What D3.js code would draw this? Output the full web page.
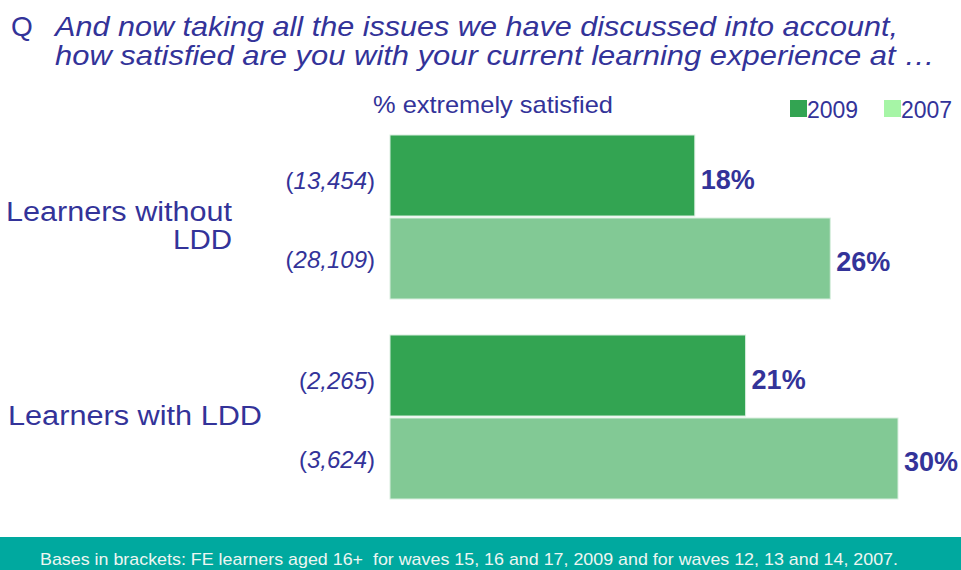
<!DOCTYPE html>
<html>
<head>
<meta charset="utf-8">
<script src="https://cdn.jsdelivr.net/npm/d3@7"></script>
<style>
  body { margin: 0; background: #fff; }
  svg text { font-family: "Liberation Sans", Arial, sans-serif; }
</style>
</head>
<body>
<div id="chartDiv"></div>
<script>
const groups = ["Learners without LDD", "Learners with LDD"];
const years = ["2009", "2007"];
const values2009 = [18, 21];
const values2007 = [26, 30];
const bases2009 = ["13,454", "2,265"];
const bases2007 = ["28,109", "3,624"];

const width = 961, height = 570;
const ink = "#333399";
const colors = {"2009": "#33a452", "2007": "#82c995"};
const legendColors = {"2009": "#33a452", "2007": "#a6f5a6"};

const svg = d3.select("#chartDiv").append("svg")
    .attr("width", width)
    .attr("height", height);

// title (reference font is wider than Arial, so stretch to its width)
const title = svg.append("g").attr("fill", ink).style("font-size", "28px").style("font-style", "italic");
title.append("text").attr("x", 11).attr("y", 36).style("font-style", "normal").text("Q");
title.append("text").attr("x", 55).attr("y", 36)
    .attr("textLength", 843).attr("lengthAdjust", "spacingAndGlyphs")
    .text("And now taking all the issues we have discussed into account,");
title.append("text").attr("x", 55).attr("y", 65)
    .attr("textLength", 880).attr("lengthAdjust", "spacingAndGlyphs")
    .text("how satisfied are you with your current learning experience at  \u2026");

svg.append("text")
    .attr("x", 373).attr("y", 113)
    .attr("fill", ink).style("font-size", "24px")
    .attr("textLength", 240).attr("lengthAdjust", "spacingAndGlyphs")
    .text("% extremely satisfied");

// legend
const legend = svg.selectAll("g.legend")
    .data(years)
    .enter().append("g")
    .attr("class", "legend")
    .attr("transform", (d, i) => `translate(${790 + i * 94}, 100)`);
legend.append("rect").attr("width", 17).attr("height", 17).attr("fill", d => legendColors[d]);
legend.append("text").attr("x", 17).attr("y", 18).attr("fill", ink).style("font-size", "23px").text(d => d);

// rows
const rows = [];
groups.forEach((g, i) => {
    rows.push({group: g, year: "2009", value: values2009[i], base: bases2009[i], key: g + "2009"});
    rows.push({group: g, year: "2007", value: values2007[i], base: bases2007[i], key: g + "2007"});
});

const x = d3.scaleLinear().domain([0, 30]).range([390, 898]);
const y0 = d3.scaleBand().domain(groups).range([135, 499]).paddingInner(0.18);
const y1 = d3.scaleBand().domain(years).range([0, y0.bandwidth()]).paddingInner(0.024);
const rowY = d => y0(d.group) + y1(d.year);

svg.selectAll("rect.bar")
    .data(rows, d => d.key)
    .enter().append("rect")
    .attr("class", "bar")
    .attr("x", x(0))
    .attr("y", rowY)
    .attr("width", d => x(d.value) - x(0))
    .attr("height", y1.bandwidth())
    .attr("fill", d => colors[d.year])
    .attr("stroke", "#d9eedf")
    .attr("stroke-width", 1);

svg.selectAll("text.valueLabel")
    .data(rows, d => d.key)
    .enter().append("text")
    .attr("class", "valueLabel")
    .attr("x", d => x(d.value) + 6)
    .attr("y", d => rowY(d) + y1.bandwidth() / 2 + 13)
    .attr("fill", ink)
    .style("font-size", "27px")
    .style("font-weight", "bold")
    .text(d => d.value + "%");

const baseLabels = svg.selectAll("text.base")
    .data(rows, d => d.key)
    .enter().append("text")
    .attr("class", "base")
    .attr("x", 375)
    .attr("y", d => rowY(d) + y1.bandwidth() / 2 + (d.year === "2009" ? 13 : 9.5))
    .attr("text-anchor", "end")
    .attr("fill", ink)
    .style("font-size", "24px");
baseLabels.append("tspan").text("(");
baseLabels.append("tspan").style("font-style", "italic").text(d => d.base);
baseLabels.append("tspan").text(")");

// group labels
svg.append("text")
    .attr("x", 6).attr("y", 221)
    .attr("fill", ink).style("font-size", "27px")
    .attr("textLength", 226).attr("lengthAdjust", "spacingAndGlyphs")
    .text("Learners without");
svg.append("text")
    .attr("x", 173).attr("y", 249)
    .attr("fill", ink).style("font-size", "27px")
    .attr("textLength", 59).attr("lengthAdjust", "spacingAndGlyphs")
    .text("LDD");

svg.append("text")
    .attr("x", 8)
    .attr("y", 425)
    .attr("fill", ink)
    .style("font-size", "27px")
    .attr("textLength", 254).attr("lengthAdjust", "spacingAndGlyphs")
    .text("Learners with LDD");

// footer
svg.append("rect").attr("x", 0).attr("y", 537).attr("width", width).attr("height", 33).attr("fill", "#00a99f");
svg.append("text")
    .attr("x", 40).attr("y", 565)
    .attr("fill", "#eef6f2")
    .style("font-size", "17px")
    .style("white-space", "pre")
    .attr("textLength", 858).attr("lengthAdjust", "spacingAndGlyphs")
    .text("Bases in brackets: FE learners aged 16+  for waves 15, 16 and 17, 2009 and for waves 12, 13 and 14, 2007.");
</script>
</body>
</html>
